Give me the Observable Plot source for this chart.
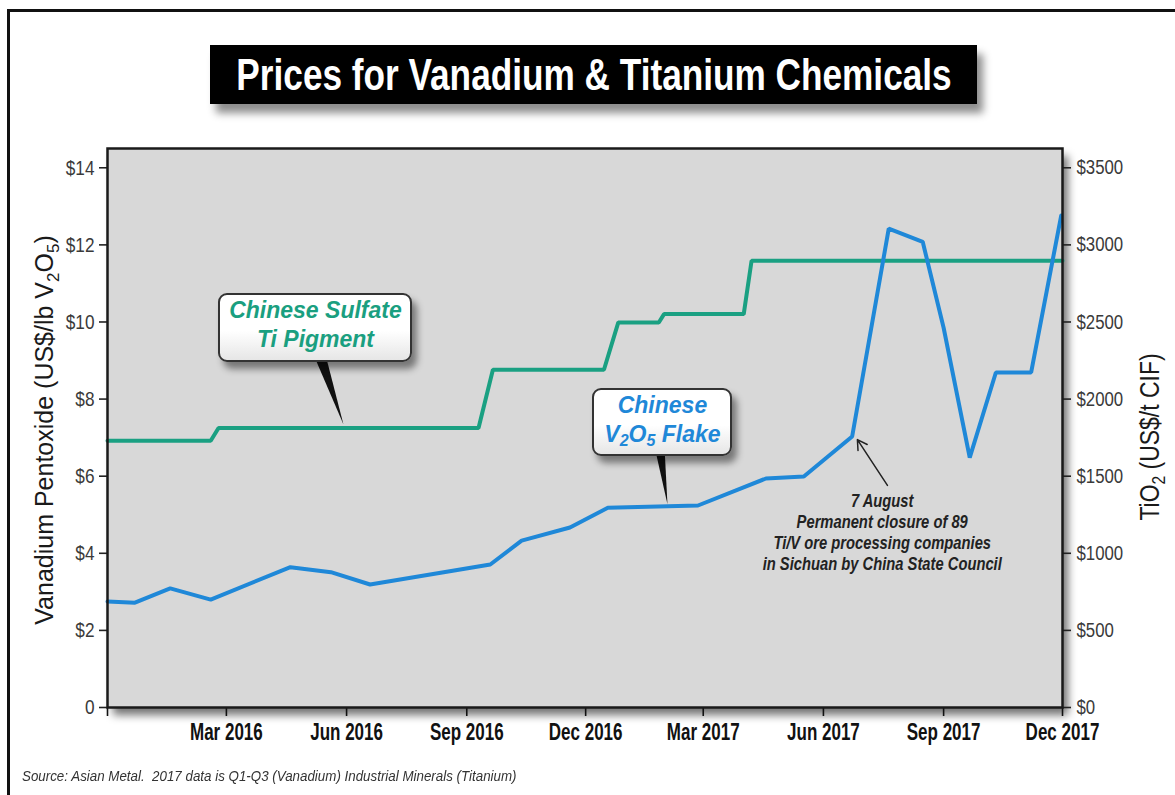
<!DOCTYPE html>
<html>
<head>
<meta charset="utf-8">
<script src="https://cdn.jsdelivr.net/npm/d3@7"></script>
<script src="https://cdn.jsdelivr.net/npm/@observablehq/plot@0.6"></script>
<style>
  body { margin: 0; background: #fff; }
  #wrap { position: relative; width: 1175px; height: 795px; overflow: hidden; background: #fff; }
  #border { position: absolute; left: 7px; top: 9px; width: 1200px; height: 820px;
            border-left: 3px solid #111; border-top: 3px solid #111; }
  #chart { position: absolute; left: 0; top: 0; z-index: 1; }
  #title { position: absolute; left: 210px; top: 45px; width: 767px; height: 59px; z-index: 3;
           background: #000; color: #fff; box-sizing: border-box;
           font-family: "Liberation Sans", Arial, sans-serif;
           font-weight: bold; font-size: 44px; line-height: 59px; white-space: nowrap;
           box-shadow: 6px 9px 8px rgba(0,0,0,0.45); }
  #title span { position: absolute; left: 50%; top: 0; transform: translateX(-50%) scaleX(0.8); }
  .callout { position: absolute; z-index: 3; box-sizing: border-box;
             border: 2px solid #333; border-radius: 9px;
             background: linear-gradient(#ffffff 55%, #e6e6e6);
             box-shadow: 5px 7px 7px rgba(0,0,0,0.45);
             font-family: "Liberation Sans", Arial, sans-serif; font-weight: bold; font-style: italic;
             font-size: 23px; line-height: 29px; text-align: center; padding-top: 1px; }
  .callout sub { font-size: 16px; vertical-align: -4px; line-height: 0; }
  #caption { position: absolute; left: 22px; top: 767px; z-index: 3; transform: scaleX(0.89); transform-origin: 0 0;
             font-family: "Liberation Sans", Arial, sans-serif; font-style: italic;
             font-size: 15px; color: #333; white-space: pre; }
</style>
</head>
<body>
<div id="wrap">
  <div id="border"></div>
  <div id="chart"></div>
  <div id="title"><span>Prices for Vanadium &amp; Titanium Chemicals</span></div>
  <div id="callTi" class="callout" style="color:#1a9f80">Chinese Sulfate<br>Ti Pigment</div>
  <div id="callV" class="callout" style="color:#1f88d8">Chinese<br>V<sub>2</sub>O<sub>5</sub> Flake</div>
  <div id="caption">Source: Asian Metal.  2017 data is Q1-Q3 (Vanadium) Industrial Minerals (Titanium)</div>
</div>
<script>
// ---------- data ----------
const tickDates = ["2015-12-01","2016-03-01","2016-06-01","2016-09-01","2016-12-01","2017-03-01","2017-06-01","2017-09-01","2017-12-01"];
const tickLabels = ["","Mar 2016","Jun 2016","Sep 2016","Dec 2016","Mar 2017","Jun 2017","Sep 2017","Dec 2017"];

const vTicks = [0, 2, 4, 6, 8, 10, 12, 14];
const vTickLabels = ["0","$2","$4","$6","$8","$10","$12","$14"];
const tiTickLabels = ["$0","$500","$1000","$1500","$2000","$2500","$3000","$3500"];
const TI_PER_V = 250; // $3500/t TiO2 aligns with $14/lb V2O5

// Chinese V2O5 flake, US$/lb
const v2o5Dates = ["2015-12-01","2015-12-22","2016-01-18","2016-02-18","2016-04-19","2016-05-20","2016-06-19",
  "2016-09-19","2016-10-13","2016-11-19","2016-12-18","2017-02-25","2017-04-18","2017-05-17","2017-06-23",
  "2017-07-21","2017-08-16","2017-09-01","2017-09-21","2017-10-11","2017-11-07","2017-11-30"];
const v2o5Prices = [2.75, 2.72, 3.09, 2.80, 3.64, 3.51, 3.19,
  3.71, 4.33, 4.67, 5.18, 5.24, 5.94, 5.99, 7.03,
  12.42, 12.08, 9.85, 6.48, 8.69, 8.69, 12.76];

// Chinese sulfate Ti pigment, US$/t
const tio2Dates = ["2015-12-01","2016-02-18","2016-02-24","2016-09-10","2016-09-21","2016-12-15","2016-12-26",
  "2017-01-26","2017-01-30","2017-04-01","2017-04-07","2017-12-01"];
const tio2Prices = [1730, 1730, 1813, 1813, 2190, 2190, 2497, 2497, 2551, 2551, 2897, 2897];

const noteText = "7 August\nPermanent closure of 89\nTi/V ore processing companies\nin Sichuan by China State Council";

// ---------- build ----------
const v2o5 = v2o5Dates.map((d, i) => ({date: new Date(d), value: v2o5Prices[i]}));
const tio2 = tio2Dates.map((d, i) => ({date: new Date(d), value: tio2Prices[i]}));
const ticks = tickDates.map(d => new Date(d));
const labelOf = d => tickLabels[ticks.findIndex(t => +t === +d)];

const SANS = '"Liberation Sans", Arial, sans-serif';
const NARROW = 0.82, XNARROW = 0.74;
const GREEN = "#1aa082", BLUE = "#1f88d8";

const chart = Plot.plot({
  width: 1175, height: 760,
  marginLeft: 107, marginRight: 113, marginTop: 148, marginBottom: 53,
  style: {background: "transparent", fontFamily: SANS, overflow: "visible"},
  x: {type: "utc", domain: [ticks[0], ticks[ticks.length - 1]]},
  y: {domain: [0, 14.5]},
  marks: [
    Plot.frame({fill: "#d8d8d8", stroke: "none"}),
    Plot.axisX({ticks, tickFormat: labelOf, tickSize: 9, tickPadding: 7, fontSize: 23, fontWeight: "bold",
                fill: "#111", stroke: "#111", strokeWidth: 1.6, label: null}),
    Plot.axisY({anchor: "left", ticks: vTicks, tickFormat: d => vTickLabels[vTicks.indexOf(d)],
                tickSize: 8, tickPadding: 5, fontSize: 21, fill: "#3a3a3a", stroke: "#222", strokeWidth: 1.6, label: null}),
    Plot.axisY({anchor: "right", ticks: vTicks, tickFormat: d => tiTickLabels[vTicks.indexOf(d)],
                tickSize: 8, tickPadding: 6, fontSize: 20.5, fill: "#3a3a3a", stroke: "#222", strokeWidth: 1.6, label: null}),
    Plot.line(tio2, {x: "date", y: d => d.value / TI_PER_V, stroke: GREEN, strokeWidth: 4, strokeLinejoin: "miter"}),
    Plot.line(v2o5, {x: "date", y: "value", stroke: BLUE, strokeWidth: 4, strokeLinejoin: "miter"}),
    Plot.arrow([{x1: new Date("2017-07-20"), y1: 5.76, x2: new Date("2017-06-27"), y2: 6.95}],
               {x1: "x1", y1: "y1", x2: "x2", y2: "y2", stroke: "#222", strokeWidth: 1.5, headLength: 11}),
    Plot.text([noteText], {x: new Date("2017-07-16"), y: 5.60, text: d => d, textAnchor: "middle", lineAnchor: "top",
               fontSize: 18, fontStyle: "italic", fontWeight: "bold", lineHeight: 1.18, fill: "#222"}),
    Plot.frame({stroke: "#1a1a1a", strokeWidth: 2.5})
  ]
});
document.getElementById("chart").append(chart);

const svg = d3.select(chart);

// condensed look: squeeze every Plot text horizontally about its own anchor (y offsets untouched)
svg.selectAll("text").each(function() {
  const k = this.closest('g[aria-label="x-axis tick label"]') ? XNARROW : NARROW;
  const X = parseFloat(this.getAttribute("x")) || 0;
  const t = this.getAttribute("transform") || "";
  this.setAttribute("transform", `${t} translate(${X},0) scale(${k},1) translate(${-X},0)`);
});

const xs = chart.scale("x"), ys = chart.scale("y");
const [x0, x1] = xs.range, [y0, y1] = ys.range; // y0 bottom, y1 top

// drop shadow behind the plot area
const defs = svg.insert("defs", ":first-child");
defs.append("filter").attr("id", "blurShadow").attr("x", "-10%").attr("y", "-10%").attr("width", "120%").attr("height", "120%")
  .append("feGaussianBlur").attr("stdDeviation", 4);
svg.insert("rect", "defs + *")
  .attr("x", x0 + 6).attr("y", y1 + 8).attr("width", x1 - x0).attr("height", y0 - y1)
  .attr("fill", "rgba(0,0,0,0.55)").attr("filter", "url(#blurShadow)");

// left axis title
const lt = svg.append("text").attr("transform", "translate(53,430) rotate(-90)")
  .attr("text-anchor", "middle").attr("font-family", SANS)
  .attr("font-size", 25).attr("fill", "#1a1a1a");
lt.append("tspan").text("Vanadium Pentoxide (US$/lb V");
lt.append("tspan").attr("font-size", 17).attr("dy", 6).text("2");
lt.append("tspan").attr("dy", -6).text("O");
lt.append("tspan").attr("font-size", 17).attr("dy", 6).text("5");
lt.append("tspan").attr("dy", -6).text(")");

// right axis title
const rt = svg.append("text").attr("transform", `translate(1159,437) rotate(-90) scale(${NARROW},1)`)
  .attr("text-anchor", "middle").attr("font-family", SANS)
  .attr("font-size", 28).attr("fill", "#1a1a1a");
rt.append("tspan").text("TiO");
rt.append("tspan").attr("font-size", 19).attr("dy", 6).text("2");
rt.append("tspan").attr("dy", -6).text(" (US$/t CIF)");

// callout pointers, anchored on the series
const tip1 = [xs.apply(new Date("2016-05-30")), ys.apply(1813 / TI_PER_V) - 3];
const tip2 = [xs.apply(new Date("2017-02-02")), ys.apply(5.23) - 1];
const wedge = (tip, a, b, h) => [[tip[0] + a, tip[1] - h], [tip[0] + b, tip[1] - h], tip].map(p => p.join(",")).join(" ");
svg.append("polygon").attr("points", wedge(tip1, -30, -18, 70)).attr("fill", "#111");
svg.append("polygon").attr("points", wedge(tip2, -13, -3, 58)).attr("fill", "#111");

const place = (id, tip, dx, dy, w, h) => {
  const el = document.getElementById(id);
  el.style.left = (tip[0] + dx) + "px"; el.style.top = (tip[1] + dy) + "px";
  el.style.width = w + "px"; el.style.height = h + "px";
};
place("callTi", tip1, -125, -131, 194, 69);
place("callV", tip2, -75, -116, 140, 68);
</script>
</body>
</html>
